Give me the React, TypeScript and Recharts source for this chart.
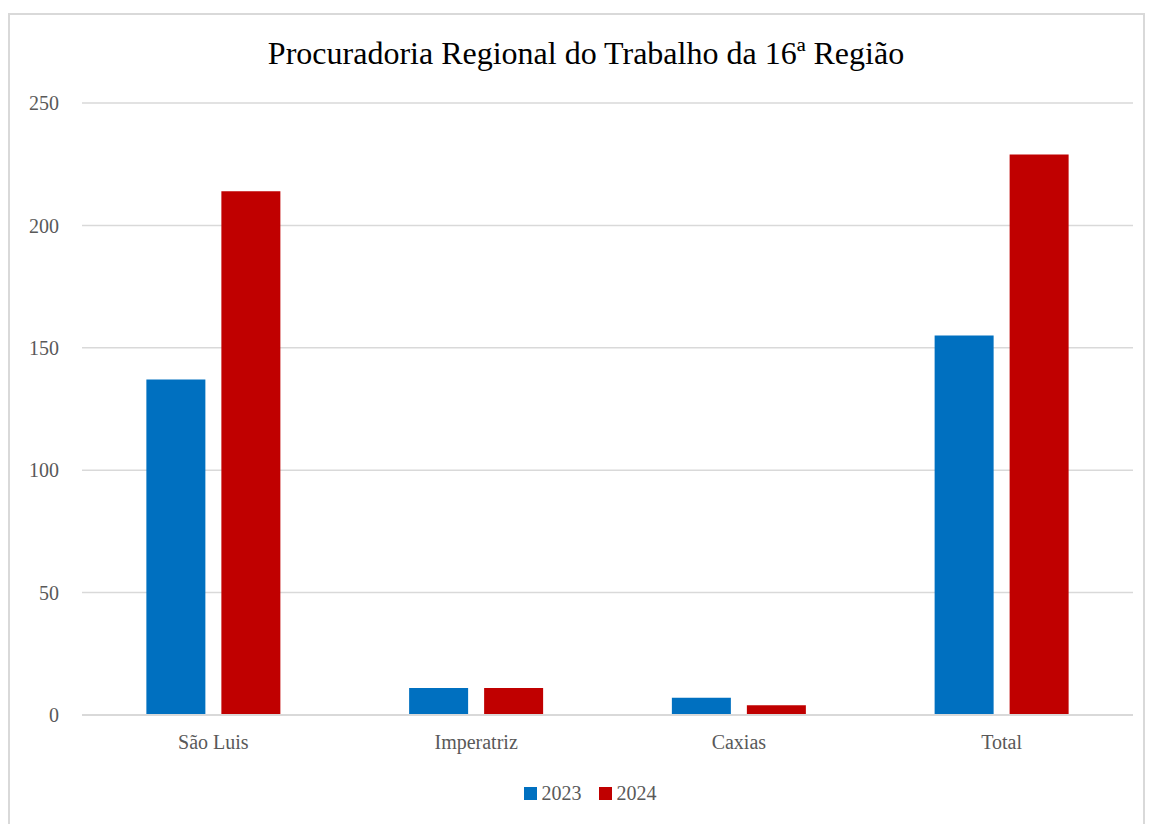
import React from 'react';
import { BarChart, Bar, XAxis, YAxis, CartesianGrid } from 'recharts';

const categories = ['São Luis', 'Imperatriz', 'Caxias', 'Total'];
const values2023 = [137, 11, 7, 155];
const values2024 = [214, 11, 4, 229];
const yTicks = [0, 50, 100, 150, 200, 250];

const TITLE = 'Procuradoria Regional do Trabalho da 16ª Região';
const FONT = '"Liberation Serif", "DejaVu Serif", serif';
const BLUE = '#0070C0';
const RED = '#C00000';
const TEXT = '#595959';

const data = categories.map((name, i) => ({
    name,
    y2023: values2023[i],
    y2024: values2024[i],
}));

const LegendBox = () => (
    <div style={{ display: 'flex', justifyContent: 'center', alignItems: 'center', fontFamily: FONT, fontSize: 20, color: TEXT }}>
        <span style={{ width: 13, height: 13, background: BLUE, display: 'inline-block', marginRight: 5 }} />
        <span style={{ marginRight: 17 }}>2023</span>
        <span style={{ width: 13, height: 13, background: RED, display: 'inline-block', marginRight: 5 }} />
        <span>2024</span>
    </div>
);

export default function App() {
    return (
        <div style={{ position: 'absolute', left: 0, top: 0, width: 1149, height: 824, background: '#fff' }}>
            <div
                style={{
                    position: 'absolute',
                    left: 8,
                    top: 13,
                    width: 1137,
                    height: 830,
                    border: '2px solid #d9d9d9',
                    boxSizing: 'border-box',
                }}
            />
            <div
                style={{
                    position: 'absolute',
                    left: 0,
                    top: 35,
                    width: 1172,
                    textAlign: 'center',
                    fontFamily: FONT,
                    fontSize: 32,
                    color: '#000',
                }}
            >
                {TITLE}
            </div>
            <div style={{ position: 'absolute', left: 0, top: 0 }}>
                <BarChart
                    width={1149}
                    height={824}
                    data={data}
                    margin={{ top: 103, right: 16, bottom: 69, left: 0 }}
                    barCategoryGap="24.5%"
                    barGap={16}
                >
                    <CartesianGrid vertical={false} stroke="#d9d9d9" strokeWidth={1.5} />
                    <XAxis
                        dataKey="name"
                        axisLine={{ stroke: '#d9d9d9', strokeWidth: 2 }}
                        tickLine={false}
                        tickMargin={14}
                        tick={{ fill: TEXT, fontFamily: FONT, fontSize: 20 }}
                        height={40}
                    />
                    <YAxis
                        domain={[0, 250]}
                        ticks={yTicks}
                        width={82}
                        axisLine={false}
                        tickLine={false}
                        tickMargin={17}
                        tick={{ fill: TEXT, fontFamily: FONT, fontSize: 20 }}
                    />
                    <Bar dataKey="y2023" name="2023" fill={BLUE} isAnimationActive={false} />
                    <Bar dataKey="y2024" name="2024" fill={RED} isAnimationActive={false} />
                </BarChart>
            </div>
            <div style={{ position: 'absolute', left: 0, top: 782, width: 1180 }}>
                <LegendBox />
            </div>
        </div>
    );
}
